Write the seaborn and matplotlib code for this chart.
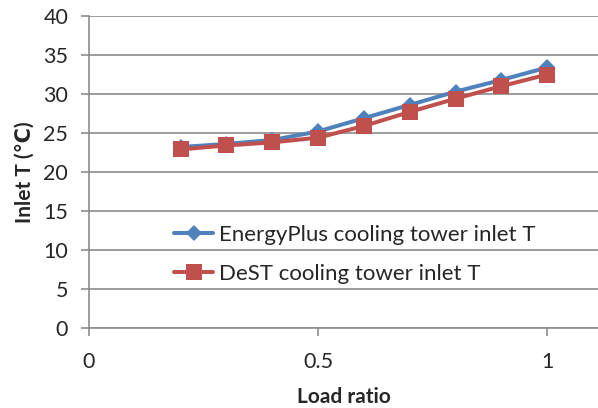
import matplotlib
matplotlib.use("Agg")
import matplotlib.pyplot as plt
import seaborn as sns
import pandas as pd

load_ratio = [0.2, 0.3, 0.4, 0.5, 0.6, 0.7, 0.8, 0.9, 1.0]
energyplus_T = [23.2, 23.6, 24.1, 25.2, 26.9, 28.6, 30.3, 31.8, 33.4]
dest_T = [22.9, 23.4, 23.8, 24.4, 25.9, 27.7, 29.4, 31.0, 32.5]
series_names = ["EnergyPlus cooling tower inlet T", "DeST cooling tower inlet T"]
x_ticks = [0, 0.5, 1]
y_ticks = [0, 5, 10, 15, 20, 25, 30, 35, 40]

sns.set_theme(style="white")
plt.rcParams['font.family'] = ['Lato', 'DejaVu Sans']

df = pd.DataFrame({
    "x": load_ratio * 2,
    "y": energyplus_T + dest_T,
    "series": [series_names[0]] * len(load_ratio) + [series_names[1]] * len(load_ratio),
})

fig = plt.figure(figsize=(5.98, 4.08), dpi=100)
ax = fig.add_axes([89 / 598, 1 - 328 / 408, 1 - 89 / 598, (328 - 16) / 408])

sns.lineplot(data=df, x="x", y="y", hue="series", style="series",
             palette=["#4F81BD", "#C0504D"], markers=["D", "s"], dashes=False,
             linewidth=2.9, markeredgewidth=0, ax=ax, legend=False)
data_lines = list(ax.lines[:2])
for line, ms in zip(data_lines, [8.5, 11]):
    line.set_markersize(ms)

ax.set_xlim(0, 1.111)
ax.set_ylim(0, 40)
ax.set_xticks(x_ticks)
ax.set_xticklabels(["0", "0.5", "1"])
ax.set_yticks(y_ticks)
ax.yaxis.grid(True, color="#8c8c8c", linewidth=1.2)
ax.set_axisbelow(True)
for s in ["top", "right"]:
    ax.spines[s].set_visible(False)
for s in ["left", "bottom"]:
    ax.spines[s].set_color("#8c8c8c")
    ax.spines[s].set_linewidth(1.2)
ax.tick_params(axis="both", which="major", labelsize=15.5, color="#8c8c8c",
               length=6, width=1.2, direction="out", bottom=True, left=True)
ax.tick_params(axis="x", pad=11)
ax.tick_params(axis="y", pad=9)

ax.set_xlabel("Load ratio", fontsize=15, fontweight="bold", labelpad=11)
ax.set_ylabel("Inlet T (℃)", fontsize=15, fontweight="bold", labelpad=6)

ax.legend(data_lines, series_names, loc="upper left", bbox_to_anchor=(0.15, 0.36),
          frameon=False, fontsize=16.0, handlelength=1.75, handletextpad=0.25,
          labelspacing=0.86, borderaxespad=0)

fig.savefig("out.png", dpi=100)
